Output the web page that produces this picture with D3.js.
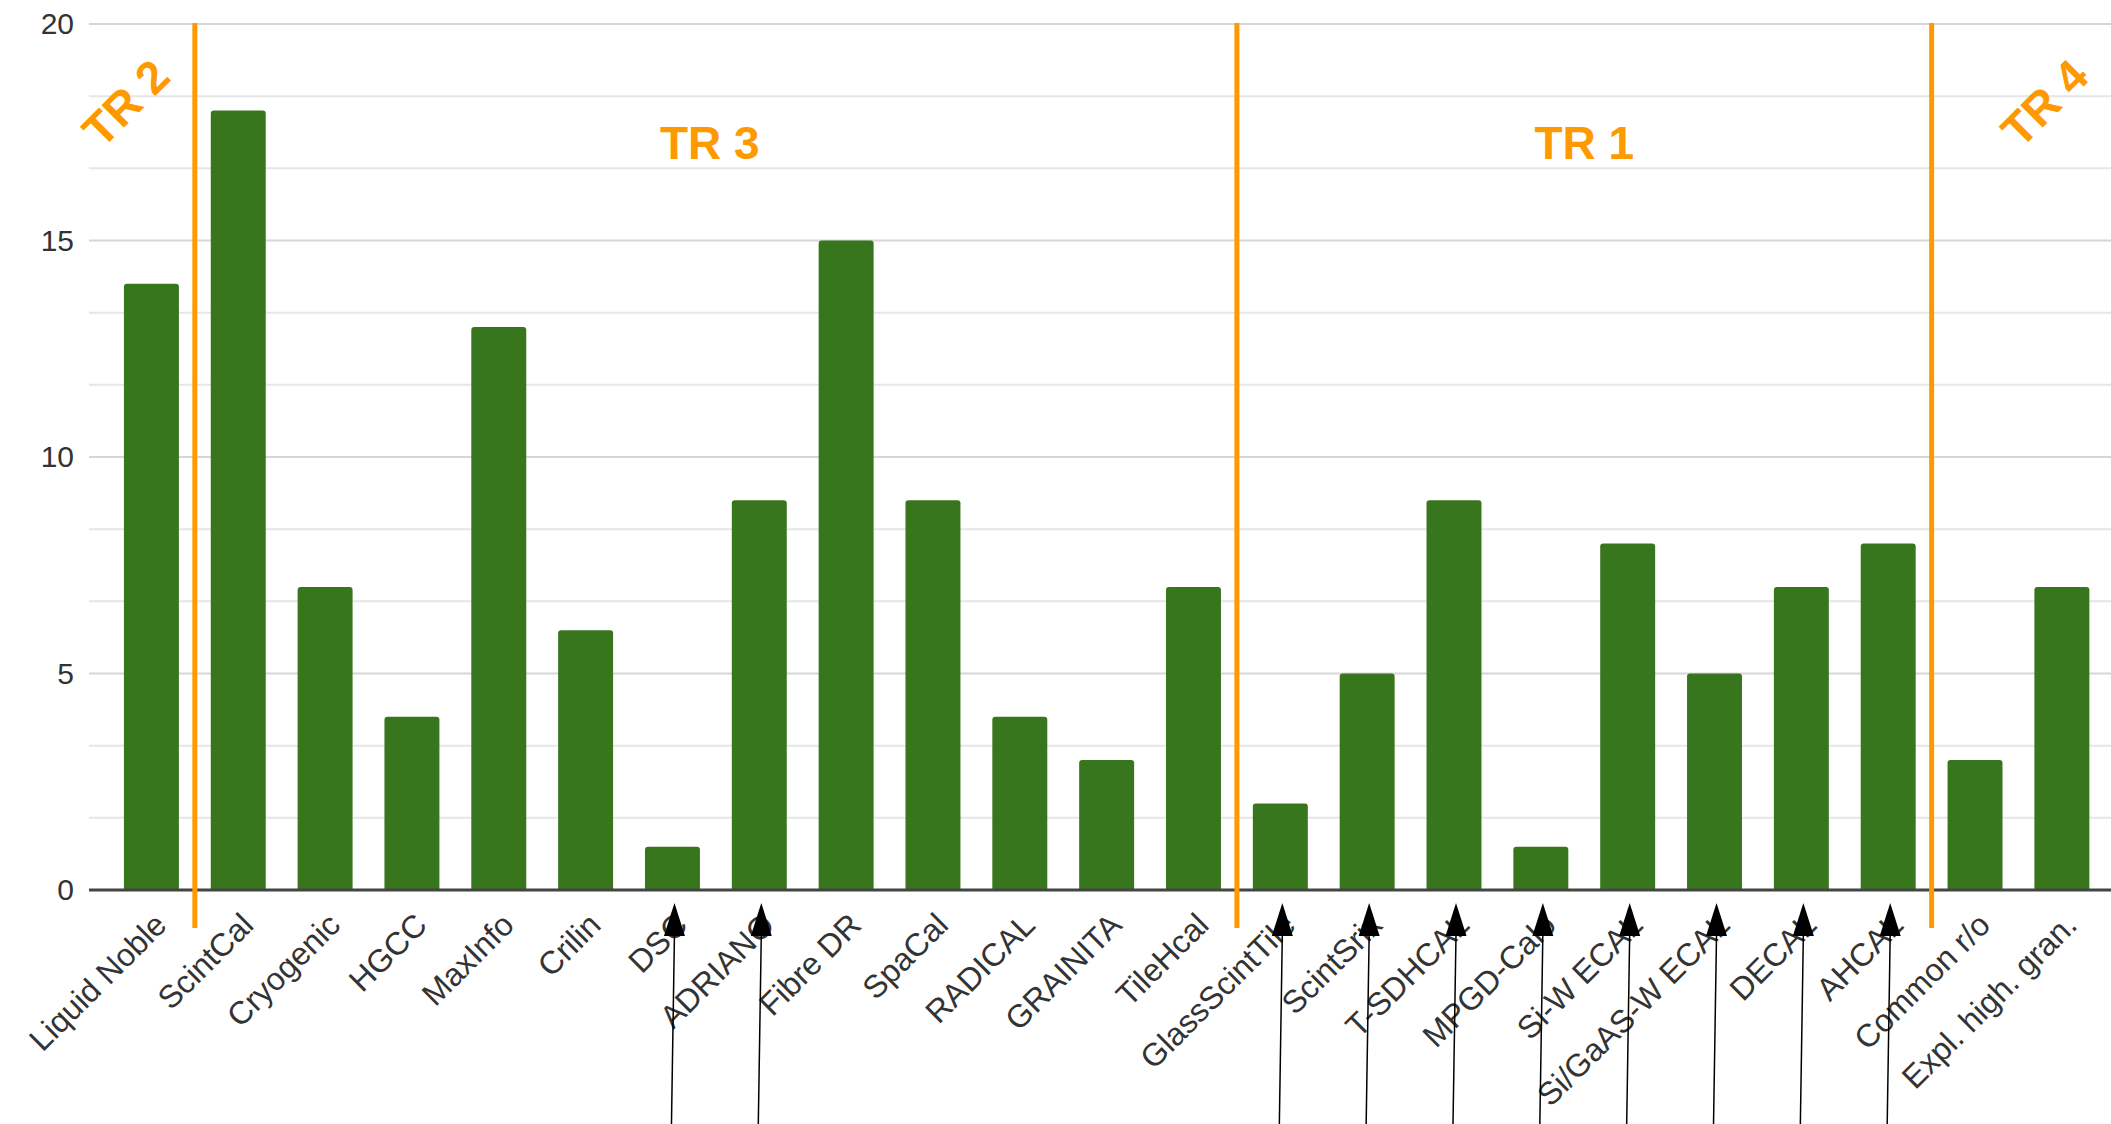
<!DOCTYPE html>
<html>
<head>
<meta charset="utf-8">
<script src="https://cdn.jsdelivr.net/npm/d3@7"></script>
<style>
  html, body { margin: 0; padding: 0; background: #fff; }
  text { font-family: Arial, "Liberation Sans", sans-serif; }
</style>
</head>
<body>
<div class="graph"></div>
<script>
/*--------------- DATA -------------*/

const categories = ["Liquid Noble", "ScintCal", "Cryogenic", "HGCC", "MaxInfo", "Crilin", "DSC",
    "ADRIANO", "Fibre DR", "SpaCal", "RADICAL", "GRAINITA", "TileHcal", "GlassScintTile",
    "ScintSrix", "T-SDHCAL", "MPGD-Calo", "Si-W ECAL", "Si/GaAS-W ECAL", "DECAL", "AHCAL",
    "Common r/o", "Expl. high. gran."];
const values = [14, 18, 7, 4, 13, 6, 1, 9, 15, 9, 4, 3, 7, 2, 5, 9, 1, 8, 5, 7, 8, 3, 7];
const yTicks = [0, 5, 10, 15, 20];

// orange separators sit just before these categories
const groupBreaks = ["ScintCal", "GlassScintTile", "Common r/o"];
const groupNames = ["TR 2", "TR 3", "TR 1", "TR 4"];

// categories with a black arrow pointing at them
const arrowTargets = ["DSC", "ADRIANO", "GlassScintTile", "ScintSrix", "T-SDHCAL",
    "MPGD-Calo", "Si-W ECAL", "Si/GaAS-W ECAL", "DECAL", "AHCAL"];

/*--------------- D3 STUFF -------------*/

const SIZE = {X: 2111, Y: 1124};
const PLOT = {LEFT: 89, RIGHT: 2111, TOP: 24, BOTTOM: 890};
const ORANGE = "#ff9900";
const GREEN = "#38761d";

const svg = d3.select(".graph").append("svg")
    .attr("width", SIZE.X)
    .attr("height", SIZE.Y)
    .style("display", "block");

svg.append("rect")
    .attr("width", SIZE.X)
    .attr("height", SIZE.Y)
    .attr("fill", "#fff");

//scales
const x = d3.scaleBand()
    .domain(categories)
    .range([108, 2105.3])
    .paddingInner(0.367)
    .paddingOuter(0.1835);

const y = d3.scaleLinear()
    .domain([0, 20])
    .range([PLOT.BOTTOM, PLOT.TOP]);

//minor + major gridlines
const grid = svg.append("g");
grid.selectAll("line.minor")
    .data(d3.range(0, 20.001, 5 / 3).filter(v => Math.abs(v / 5 - Math.round(v / 5)) > 0.01))
    .enter().append("line")
    .attr("class", "minor")
    .attr("x1", PLOT.LEFT).attr("x2", PLOT.RIGHT)
    .attr("y1", d => y(d)).attr("y2", d => y(d))
    .attr("stroke", "#e6e6e6")
    .attr("stroke-width", 2);

grid.selectAll("line.major")
    .data(yTicks.filter(d => d > 0))
    .enter().append("line")
    .attr("class", "major")
    .attr("x1", PLOT.LEFT).attr("x2", PLOT.RIGHT)
    .attr("y1", d => y(d)).attr("y2", d => y(d))
    .attr("stroke", "#d6d6d6")
    .attr("stroke-width", 2);

//y axis
const yAxis = svg.append("g")
    .attr("transform", `translate(${PLOT.LEFT},0)`)
    .call(d3.axisLeft(y).tickValues(yTicks).tickSize(0).tickPadding(15));
yAxis.select(".domain").remove();
yAxis.selectAll("text")
    .attr("fill", "#333")
    .style("font-size", "30px");

//bars with slightly rounded tops
const bw = x.bandwidth();
const r = 3;
svg.append("g").selectAll("path")
    .data(categories.map((c, i) => ({cat: c, val: values[i]})))
    .enter().append("path")
    .attr("fill", GREEN)
    .attr("d", d => {
        const x0 = x(d.cat), x1 = x0 + bw, y0 = y(0), y1 = y(d.val);
        return `M${x0},${y0} L${x0},${y1 + r} Q${x0},${y1} ${x0 + r},${y1}` +
               ` L${x1 - r},${y1} Q${x1},${y1} ${x1},${y1 + r} L${x1},${y0} Z`;
    });

//baseline
svg.append("line")
    .attr("x1", PLOT.LEFT).attr("x2", PLOT.RIGHT)
    .attr("y1", y(0)).attr("y2", y(0))
    .attr("stroke", "#444")
    .attr("stroke-width", 3);

//x axis labels
const xAxis = svg.append("g")
    .attr("transform", `translate(0,${y(0)})`)
    .call(d3.axisBottom(x).tickSize(0));
xAxis.select(".domain").remove();
xAxis.selectAll("text")
    .attr("y", 0)
    .attr("dy", 0)
    .attr("transform", "translate(17,37) rotate(-45)")
    .style("text-anchor", "end")
    .style("font-size", "32px")
    .attr("fill", "#333");

//orange group separators
const gap = x.step() - bw;
const breakX = groupBreaks.map(c => x(c) - gap / 2);

svg.append("g").selectAll("line")
    .data(breakX)
    .enter().append("line")
    .attr("x1", d => d).attr("x2", d => d)
    .attr("y1", y(20) - 1).attr("y2", y(0) + 38)
    .attr("stroke", ORANGE)
    .attr("stroke-width", 5);

//group names
const labels = svg.append("g")
    .attr("fill", ORANGE)
    .style("font-weight", "bold")
    .style("font-size", "46px");

labels.append("text")
    .attr("transform", `translate(${breakX[0] - 69},103) rotate(-45)`)
    .attr("text-anchor", "middle")
    .attr("dominant-baseline", "central")
    .text(groupNames[0]);

labels.append("text")
    .attr("x", (breakX[0] + breakX[1]) / 2 - 6)
    .attr("y", 159)
    .attr("text-anchor", "middle")
    .text(groupNames[1]);

labels.append("text")
    .attr("x", (breakX[1] + breakX[2]) / 2)
    .attr("y", 159)
    .attr("text-anchor", "middle")
    .text(groupNames[2]);

labels.append("text")
    .attr("transform", `translate(${breakX[2] + 113},103) rotate(-45)`)
    .attr("text-anchor", "middle")
    .attr("dominant-baseline", "central")
    .text(groupNames[3]);

//black arrows pointing up at some categories
const arrows = svg.append("g");
const tipY = y(0) + 13;
const headLen = 33, headW = 21;
arrowTargets.forEach(c => {
    const cx = x(c) + bw / 2 + 2;
    arrows.append("line")
        .attr("x1", cx - 3).attr("y1", SIZE.Y)
        .attr("x2", cx).attr("y2", tipY + headLen - 2)
        .attr("stroke", "#000")
        .attr("stroke-width", 1.5);
    arrows.append("path")
        .attr("d", `M${cx},${tipY} L${cx + headW / 2},${tipY + headLen} L${cx - headW / 2},${tipY + headLen} Z`)
        .attr("fill", "#000");
});
</script>
</body>
</html>
